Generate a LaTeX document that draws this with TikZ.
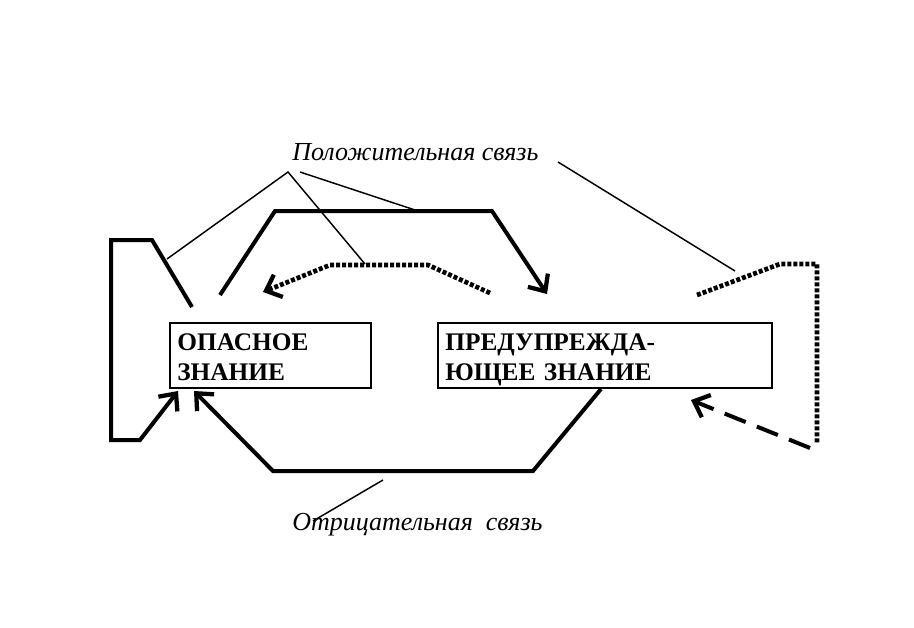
\documentclass[tikz,border=0pt]{standalone}
\usepackage{fontspec}
\setmainfont{Liberation Serif}
\usetikzlibrary{arrows.meta,calc}
\begin{document}
\begin{tikzpicture}[x=0.75pt,y=-0.75pt,
  box/.style={draw,line width=1.5pt,minimum height=48.75pt,inner xsep=5.5pt,inner ysep=0pt,
    text height=13pt,text depth=20.75pt,align=left,font=\fontsize{19}{22.5}\selectfont\bfseries},
  thickline/.style={line width=3pt,line join=miter},
  tip/.style={-{Straight Barb[length=10pt,width=18pt,line width=3.2pt]}},
  dottedline/.style={line width=3.5pt,dash pattern=on 3pt off 1.5pt},
  dashedline/.style={line width=3pt,dash pattern=on 17pt off 9pt},
  labelline/.style={line width=1.1pt},
  lbl/.style={anchor=base west,inner sep=0pt,font=\fontsize{19.5}{23}\selectfont\itshape}]
\useasboundingbox (0,0) rectangle (914,628);
\fill[white] (0,0) rectangle (914,628);

% boxes
\node[box,minimum width=150.75pt,text width=139.75pt] (b1) at (270.5,355.5) {ОПАСНОЕ\\ЗНАНИЕ};
\node[box,minimum width=250.5pt,text width=239.5pt] (b2) at (605,355.5) {ПРЕДУПРЕЖДА-\\ЮЩЕЕ ЗНАНИЕ};

% labels
\node[lbl] (pos) at (292,160) {Положительная связь};
\node[lbl] (neg) at (292,530) {Отрицательная\ \ связь};

% path coordinates
\coordinate (L1) at (192,307);
\coordinate (L2) at (152,240);
\coordinate (L3) at (111,240);
\coordinate (L4) at (111,440);
\coordinate (L5) at (140,440);
\coordinate (Ltip) at (178,391);

\coordinate (T1) at (220,295);
\coordinate (T2) at (275,211);
\coordinate (T3) at (492,211);
\coordinate (Ttip) at (547,294);

\coordinate (D1) at (490,293);
\coordinate (D2) at (428,265);
\coordinate (D3) at (330,265);
\coordinate (Dtip) at (263,292);

\coordinate (B1) at ($(b2.south west)+(164,0)$);
\coordinate (B2) at (533,471);
\coordinate (B3) at (273,471);
\coordinate (Btip) at (194,391);

\coordinate (R1) at (697,295);
\coordinate (R2) at (780,264);
\coordinate (R3) at (817,264);
\coordinate (R4) at (817,443);
\coordinate (E1) at (810,448);
\coordinate (Etip) at (691,400);

% label line anchors
\coordinate (P) at (288,172);
\coordinate (P2) at (300,172);
\coordinate (PL) at (167,259);
\coordinate (PD) at (365,264);
\coordinate (PT) at (415,210);
\coordinate (Q1) at (558,162);
\coordinate (Q2) at (735,271);
\coordinate (N1) at (383,480);
\coordinate (N2) at (313,521);

% thick connectors
\draw[thickline,tip] (L1) -- (L2) -- (L3) -- (L4) -- (L5) -- (Ltip);
\draw[thickline,tip] (T1) -- (T2) -- (T3) -- (Ttip);
\draw[thickline,tip] (B1) -- (B2) -- (B3) -- (Btip);
\draw[dottedline,tip] (D1) -- (D2) -- (D3) -- (Dtip);
\draw[dottedline] (R1) -- (R2) -- (R3) -- (R4);
\draw[dashedline,tip] (E1) -- (Etip);

% label lines
\draw[labelline] (PL) -- (P) -- (PD);
\draw[labelline] (P2) -- (PT);
\draw[labelline] (Q1) -- (Q2);
\draw[labelline] (N1) -- (N2);
\end{tikzpicture}
\end{document}
